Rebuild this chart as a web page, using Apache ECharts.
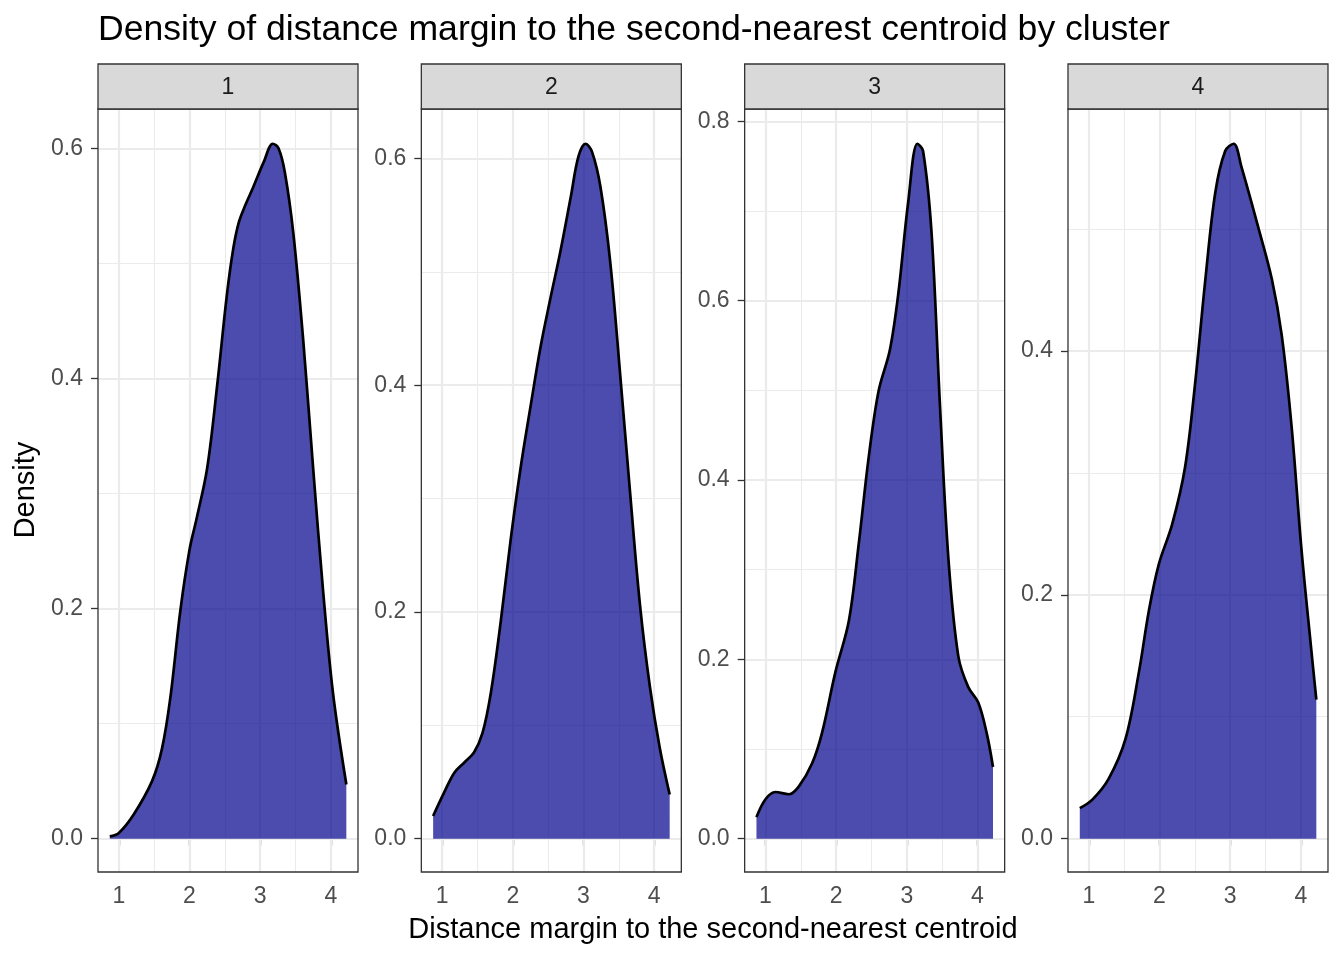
<!DOCTYPE html>
<html><head><meta charset="utf-8">
<script src="https://cdn.jsdelivr.net/npm/echarts@6/dist/echarts.min.js"></script>
<style>html,body{margin:0;padding:0;background:#fff}#c{width:1344px;height:960px}</style>
</head><body><div id="c"></div>
<script>
// ---- data ----
const clusters = ['1', '2', '3', '4'];

const x1 = [0.872, 1.0, 1.21, 1.47, 1.61, 1.73, 1.87, 2.0, 2.1, 2.25, 2.39, 2.53, 2.62, 2.70, 2.80, 2.90, 3.05, 3.18, 3.26, 3.35, 3.47, 3.61, 3.75, 3.89, 4.03, 4.22];
const d1 = [0.002, 0.005, 0.021, 0.050, 0.078, 0.123, 0.198, 0.251, 0.278, 0.322, 0.393, 0.473, 0.513, 0.536, 0.552, 0.566, 0.588, 0.604, 0.600, 0.579, 0.526, 0.433, 0.322, 0.216, 0.127, 0.047];

const x2 = [0.872, 1.03, 1.17, 1.31, 1.45, 1.57, 1.69, 1.83, 1.97, 2.11, 2.25, 2.39, 2.53, 2.67, 2.82, 2.93, 3.03, 3.12, 3.24, 3.38, 3.52, 3.66, 3.80, 3.94, 4.08, 4.22];
const d2 = [0.020, 0.041, 0.058, 0.067, 0.076, 0.093, 0.129, 0.192, 0.264, 0.327, 0.381, 0.433, 0.476, 0.517, 0.566, 0.602, 0.613, 0.606, 0.575, 0.508, 0.409, 0.305, 0.206, 0.134, 0.080, 0.039];

const x3 = [0.872, 1.0, 1.14, 1.33, 1.47, 1.66, 1.80, 1.99, 2.18, 2.32, 2.46, 2.60, 2.76, 2.88, 3.02, 3.15, 3.23, 3.35, 3.47, 3.59, 3.73, 3.87, 4.01, 4.13, 4.22];
const d3 = [0.024, 0.044, 0.052, 0.0495, 0.058, 0.084, 0.118, 0.186, 0.243, 0.329, 0.425, 0.499, 0.545, 0.608, 0.710, 0.775, 0.767, 0.676, 0.482, 0.311, 0.203, 0.169, 0.152, 0.118, 0.080];

const x4 = [0.872, 1.05, 1.28, 1.52, 1.71, 1.85, 1.99, 2.18, 2.36, 2.50, 2.65, 2.79, 2.93, 3.05, 3.16, 3.40, 3.59, 3.73, 3.87, 4.01, 4.15, 4.22];
const d4 = [0.025, 0.032, 0.049, 0.082, 0.137, 0.187, 0.225, 0.258, 0.304, 0.371, 0.459, 0.530, 0.564, 0.570, 0.551, 0.501, 0.459, 0.413, 0.338, 0.237, 0.154, 0.114];

const xTicks = [1, 2, 3, 4];
const xMinor = [1.5, 2.5, 3.5];
const yTicks1 = [0, 0.2, 0.4, 0.6], yMinor1 = [0.1, 0.3, 0.5];
const yTicks2 = [0, 0.2, 0.4, 0.6], yMinor2 = [0.1, 0.3, 0.5];
const yTicks3 = [0, 0.2, 0.4, 0.6, 0.8], yMinor3 = [0.1, 0.3, 0.5, 0.7];
const yTicks4 = [0, 0.2, 0.4], yMinor4 = [0.1, 0.3, 0.5];

const titleText = 'Density of distance margin to the second-nearest centroid by cluster';
const xTitle = 'Distance margin to the second-nearest centroid';
const yTitle = 'Density';

// ---- build ----
const xs = [x1, x2, x3, x4];
const ds = [d1, d2, d3, d4];
const yTicks = [yTicks1, yTicks2, yTicks3, yTicks4];
const yMinors = [yMinor1, yMinor2, yMinor3, yMinor4];

const FONT = 'Liberation Sans, Arial, Helvetica, sans-serif';
const panelLeft0 = 98, panelStep = 323.33, panelW = 260, panelTop = 109, panelH = 763;
const stripTop = 64, stripH = 45;

const grids = [], xAxes = [], yAxes = [], series = [], graphics = [];

clusters.forEach((c, i) => {
  const left = panelLeft0 + i * panelStep;
  grids.push({left: left, top: panelTop, width: panelW, height: panelH,
    show: true, borderColor: '#333333', borderWidth: 1.3, backgroundColor: 'transparent', z: 3});
  const ymax = Math.max(...ds[i]);
  xAxes.push({type: 'value', gridIndex: i, min: 0.705, max: 4.385,
    axisLine: {show: false}, splitLine: {show: false},
    axisTick: {show: true, customValues: xTicks, length: 7, lineStyle: {color: '#333333', width: 1.3}},
    axisLabel: {customValues: xTicks, fontSize: 23, color: '#4d4d4d', fontFamily: FONT, margin: 13,
      formatter: v => String(v)}});
  yAxes.push({type: 'value', gridIndex: i, min: -0.048 * ymax, max: 1.05 * ymax,
    axisLine: {show: false}, splitLine: {show: false},
    axisTick: {show: true, customValues: yTicks[i], length: 7, lineStyle: {color: '#333333', width: 1.3}},
    axisLabel: {customValues: yTicks[i], fontSize: 23, color: '#4d4d4d', fontFamily: FONT, margin: 15,
      formatter: v => v.toFixed(1)}});
  // grid lines (beneath the density fill)
  const gl = [];
  xTicks.forEach(v => gl.push({xAxis: v, lineStyle: {color: '#ebebeb', width: 2.2, type: 'solid'}}));
  xMinor.forEach(v => gl.push({xAxis: v, lineStyle: {color: '#ebebeb', width: 1.1, type: 'solid'}}));
  yTicks[i].forEach(v => gl.push({yAxis: v, lineStyle: {color: '#ebebeb', width: 2.2, type: 'solid'}}));
  yMinors[i].forEach(v => gl.push({yAxis: v, lineStyle: {color: '#ebebeb', width: 1.1, type: 'solid'}}));
  series.push({type: 'line', xAxisIndex: i, yAxisIndex: i, data: [], z: 1, silent: true,
    markLine: {z: 1, silent: true, symbol: ['none', 'none'], label: {show: false}, animation: false, data: gl}});
  // density
  series.push({type: 'line', xAxisIndex: i, yAxisIndex: i, z: 4, smooth: 0.35, symbol: 'none',
    data: xs[i].map((x, k) => [x, ds[i][k]]),
    lineStyle: {color: '#000000', width: 2.7, cap: 'butt', join: 'round'},
    areaStyle: {color: 'rgba(0,0,139,0.7)', origin: 0, opacity: 1},
    animation: false});
  // strip
  graphics.push({type: 'rect', shape: {x: left, y: stripTop, width: panelW, height: stripH},
    style: {fill: '#d9d9d9', stroke: '#333333', lineWidth: 1.3}, z: 10});
  graphics.push({type: 'text', x: left + panelW / 2, y: stripTop + stripH / 2 + 1,
    style: {text: c, fontSize: 23, fontFamily: FONT, fill: '#1a1a1a', align: 'center', verticalAlign: 'middle'}, z: 11});
});

graphics.push({type: 'text', x: 713, y: 930,
  style: {text: xTitle, fontSize: 29, fontFamily: FONT, fill: '#000', align: 'center', verticalAlign: 'middle'}});
graphics.push({type: 'text', x: 26, y: 490, rotation: Math.PI / 2,
  style: {text: yTitle, fontSize: 29, fontFamily: FONT, fill: '#000', align: 'center', verticalAlign: 'middle'}});

const chart = echarts.init(document.getElementById('c'), null, {renderer: 'canvas'});
chart.setOption({
  animation: false,
  backgroundColor: '#ffffff',
  title: {text: titleText, left: 98, top: 12, padding: 0,
    textStyle: {fontSize: 35.6, fontWeight: 'normal', color: '#000', fontFamily: FONT}},
  grid: grids, xAxis: xAxes, yAxis: yAxes, series: series, graphic: graphics
});
</script></body></html>
